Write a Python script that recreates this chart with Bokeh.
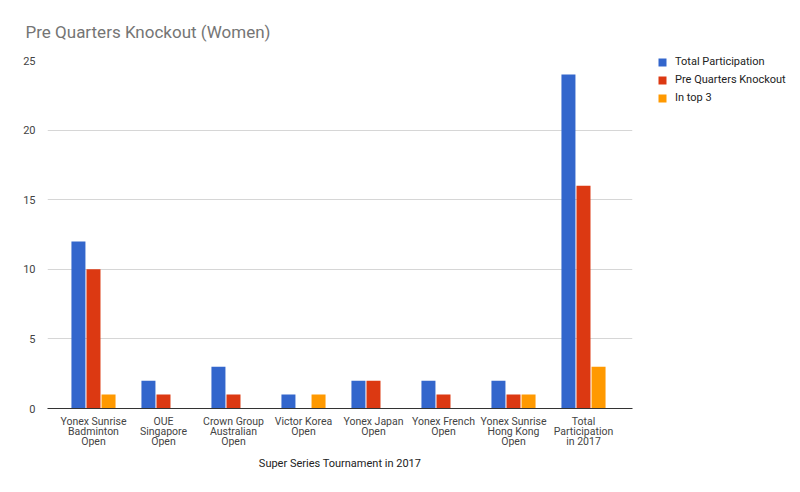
from bokeh.plotting import figure
from bokeh.models import ColumnDataSource, Legend, LegendItem, FixedTicker, Range1d
from bokeh.transform import dodge
from bokeh.embed import file_html
from bokeh.resources import INLINE

categories = ["Yonex Sunrise\nBadminton\nOpen", "OUE\nSingapore\nOpen", "Crown Group\nAustralian\nOpen",
              "Victor Korea\nOpen", "Yonex Japan\nOpen", "Yonex French\nOpen",
              "Yonex Sunrise\nHong Kong\nOpen", "Total\nParticipation\nin 2017"]
total_participation = [12, 2, 3, 1, 2, 2, 2, 24]
pre_quarters = [10, 1, 1, 0, 2, 1, 1, 16]
in_top3 = [1, 0, 0, 1, 0, 0, 1, 3]
series_names = ["Total Participation", "Pre Quarters Knockout", "In top 3"]
colors = ["#3366CC", "#DC3912", "#FF9900"]
y_ticks = [0, 5, 10, 15, 20, 25]

xs = list(range(len(categories)))
src = ColumnDataSource(dict(x=xs, a=total_participation, b=pre_quarters, c=in_top3))

FONT = "Roboto"
p = figure(width=784, height=476, output_backend="svg", toolbar_location=None,
           x_range=Range1d(-0.657, 7.7), y_range=Range1d(0, 25),
           frame_width=585, frame_height=348,
           min_border_left=47, min_border_top=60, min_border_right=152, min_border_bottom=68)

p.title.text = "Pre Quarters Knockout (Women)"
p.title.text_font = FONT
p.title.text_font_size = "17px"
p.title.text_font_style = "normal"
p.title.text_color = "#757575"
p.title.offset = -22
p.title.standoff = 37

renderers = []
for key, off, col in zip(["a", "b", "c"], [-0.215, 0.0, 0.215], colors):
    r = p.vbar(x=dodge("x", off), top=key, width=0.2, bottom=0, source=src,
               fill_color=col, line_color=None)
    renderers.append(r)

p.xaxis.ticker = FixedTicker(ticks=xs)
p.xaxis.major_label_overrides = {i: c for i, c in enumerate(categories)}
p.xaxis.major_tick_line_color = None
p.xaxis.minor_tick_line_color = None
p.xaxis.axis_line_color = "#333333"
p.xaxis.axis_line_width = 1.2
p.xaxis.major_label_text_font = FONT
p.xaxis.major_label_text_font_size = "10.5px"
p.xaxis.major_label_text_color = "#444444"
p.xaxis.major_label_text_line_height = 0.8
p.xaxis.major_label_standoff = 0
p.xaxis.axis_label = "Super Series Tournament in 2017"
p.xaxis.axis_label_text_font = FONT
p.xaxis.axis_label_text_font_size = "11px"
p.xaxis.axis_label_text_font_style = "normal"
p.xaxis.axis_label_text_color = "#222222"
p.xaxis.axis_label_standoff = 6

p.yaxis.ticker = FixedTicker(ticks=y_ticks)
p.yaxis.axis_line_color = None
p.yaxis.major_tick_line_color = None
p.yaxis.minor_tick_line_color = None
p.yaxis.major_label_text_font = FONT
p.yaxis.major_label_text_font_size = "11px"
p.yaxis.major_label_text_color = "#444444"
p.yaxis.major_label_standoff = 6

p.xgrid.grid_line_color = None
p.ygrid.grid_line_color = "#d6d6d6"
p.ygrid.ticker = FixedTicker(ticks=y_ticks)
p.outline_line_color = None

legend = Legend(items=[LegendItem(label=n, renderers=[r]) for n, r in zip(series_names, renderers)],
                location=(25, 304))
legend.label_text_font = FONT
legend.label_text_font_size = "11px"
legend.label_text_color = "#222222"
legend.glyph_width = 10
legend.glyph_height = 10
legend.spacing = 5
legend.padding = 0
legend.margin = 0
legend.label_standoff = 8
legend.label_height = 12
legend.border_line_color = None
legend.background_fill_alpha = 0
p.add_layout(legend, "right")

open("out.html", "w").write(file_html(p, INLINE))
